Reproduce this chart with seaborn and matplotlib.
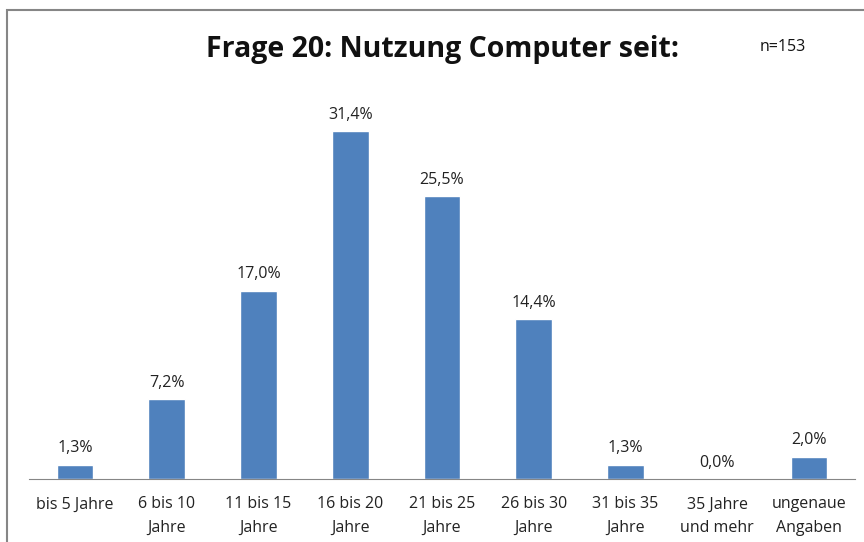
import matplotlib
matplotlib.use("Agg")
import matplotlib.pyplot as plt
import seaborn as sns
import pandas as pd
from matplotlib.patches import Rectangle

categories = ["bis 5 Jahre", "6 bis 10\nJahre", "11 bis 15\nJahre", "16 bis 20\nJahre",
              "21 bis 25\nJahre", "26 bis 30\nJahre", "31 bis 35\nJahre",
              "35 Jahre\nund mehr", "ungenaue\nAngaben"]
values = [1.3, 7.2, 17.0, 31.4, 25.5, 14.4, 1.3, 0.0, 2.0]

df = pd.DataFrame({"kategorie": categories, "anteil": values})

sns.set_style("white")
plt.rcParams["font.family"] = ["Open Sans", "DejaVu Sans"]

fig = plt.figure(figsize=(8.64, 5.42), dpi=100)
ax = fig.add_axes([29 / 864, 1 - 479 / 542, 826 / 864, 388 / 542])

sns.barplot(data=df, x="kategorie", y="anteil", color="#4F81BD", width=0.4,
            saturation=1, ax=ax)

ax.set_xlim(-0.5, 8.5)
ax.set_ylim(0, 35)
for i, v in enumerate(values):
    ax.annotate(f"{v:.1f}%".replace(".", ","), (i, v), xytext=(0, 6),
                textcoords="offset points", ha="center", va="bottom",
                fontsize=11.5, color="#222222")

sns.despine(ax=ax, left=True, top=True, right=True)
ax.spines["bottom"].set_color("#868686")
ax.set_yticks([])
ax.set_xlabel("")
ax.set_ylabel("")
ax.tick_params(axis="x", length=0, pad=12.5, labelsize=11.5, labelcolor="#222222")
for lbl in ax.get_xticklabels():
    lbl.set_linespacing(1.6)

fig.text(442 / 864, 1 - 49 / 542, "Frage 20: Nutzung Computer seit:", ha="center",
         va="center", fontsize=20.5, fontweight="bold", color="#111111")
fig.text(783 / 864, 1 - 47 / 542, "n=153", ha="center", va="center",
         fontsize=11.5, color="#111111")

fig.patches.append(Rectangle((7 / 864, -0.05), 1.1, 1 - 10 / 542 + 0.05,
                             transform=fig.transFigure, fill=False,
                             edgecolor="#868686", linewidth=1.5))

fig.savefig("out.png", dpi=100)
